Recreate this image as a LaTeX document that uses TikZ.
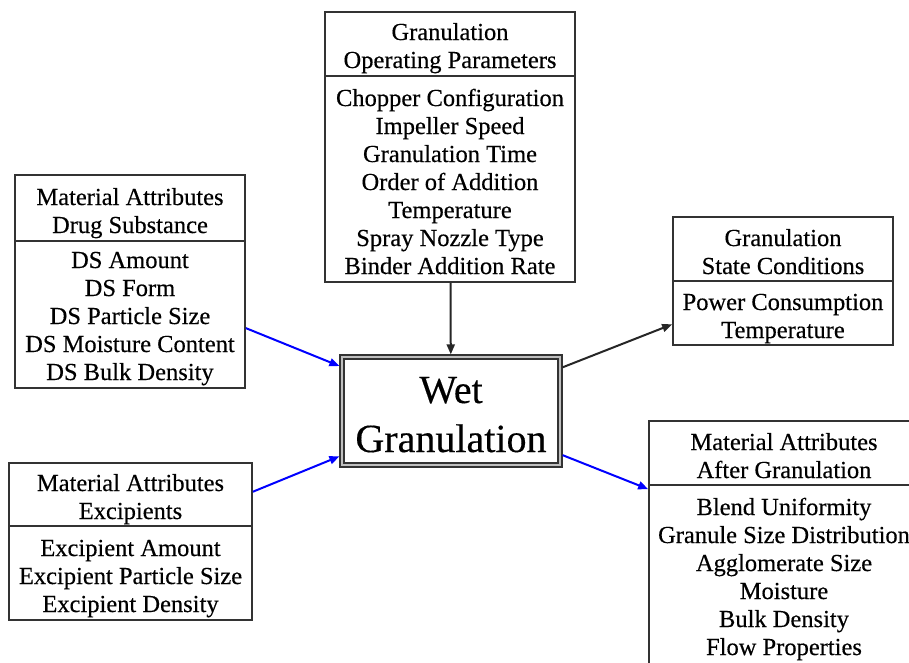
\documentclass[tikz,border=0pt]{standalone}
\usepackage{fontspec}
\setmainfont{Liberation Serif}[FakeBold=0.35]
\usetikzlibrary{arrows.meta}
\newcommand\boxfont{\fontsize{24.5}{28}\selectfont}
\newcommand\bigfont{\fontsize{40}{49}\selectfont}
\begin{document}
\begin{tikzpicture}[x=1pt,y=-1pt,
  panel/.style={draw=black!80, line width=1.7pt, inner sep=0pt, outer sep=0.85pt},
  divider/.style={draw=black!80, line width=1.7pt},
  txt/.style={font=\boxfont, align=center, inner sep=0pt},
  flow/.style={line width=2pt, color=black!85, -{Triangle[length=10pt,width=8pt]}},
  feed/.style={flow, color=blue}]
\useasboundingbox (0,0) rectangle (909,662);
\clip (0,0) rectangle (909,662);

% frames of the attribute tables
\node[panel, minimum width=250pt, minimum height=270pt] (ops)   at (450,147)     {};
\node[panel, minimum width=230pt, minimum height=213pt] (ds)    at (130,281.5)   {};
\node[panel, minimum width=243pt, minimum height=157pt] (exc)   at (130.5,541.5) {};
\node[panel, minimum width=220pt, minimum height=128pt] (state) at (783,281)     {};
\node[panel, minimum width=270pt, minimum height=243pt] (after) at (784,542.5)   {};

% header / body separators
\draw[divider] (325,76)  -- (575,76);
\draw[divider] (15,241)  -- (245,241);
\draw[divider] (9,526)   -- (252,526);
\draw[divider] (673,281) -- (893,281);
\draw[divider] (649,485) -- (919,485);

% central process unit
\node[draw=black!80, line width=1.5pt, double=gray!50, double distance=2.2pt,
      minimum width=218pt, minimum height=108pt, inner sep=0pt, outer sep=2.6pt]
      (wet) at (451,411) {};
\node[font=\bigfont, align=center, inner sep=0pt] (wetT) at (451,417.7)
      {\strut Wet\\Granulation\strut};

% table contents
\node[txt] (opsH) at (450,48.4) {\strut Granulation\\Operating Parameters\strut};
\node[txt] (opsB) at (450,184.4) {\strut Chopper Configuration\\Impeller Speed\\Granulation Time\\Order of Addition\\Temperature\\Spray Nozzle Type\\Binder Addition Rate\strut};

\node[txt] (dsH) at (130,213.4) {\strut Material Attributes\\Drug Substance\strut};
\node[txt] (dsB) at (130,318.4) {\strut DS Amount\\DS Form\\DS Particle Size\\DS Moisture Content\\DS Bulk Density\strut};

\node[txt] (excH) at (130.5,499.4) {\strut Material Attributes\\Excipients\strut};
\node[txt] (excB) at (130.5,578.4) {\strut Excipient Amount\\Excipient Particle Size\\Excipient Density\strut};

\node[txt] (stateH) at (783,254.4) {\strut Granulation\\State Conditions\strut};
\node[txt] (stateB) at (783,318.4) {\strut Power Consumption\\Temperature\strut};

\node[txt] (afterH) at (784,458.4) {\strut Material Attributes\\After Granulation\strut};
\node[txt] (afterB) at (784,579.4) {\strut Blend Uniformity\\Granule Size Distribution\\Agglomerate Size\\Moisture\\Bulk Density\\Flow Properties\strut};

% connectors
\draw[flow] (ops) -- (wet);
\draw[feed] (ds)  -- (wet);
\draw[feed] (exc) -- (wet);
\draw[flow] (wet) -- (state);
\draw[feed] (wet) -- (after);
\end{tikzpicture}
\end{document}
